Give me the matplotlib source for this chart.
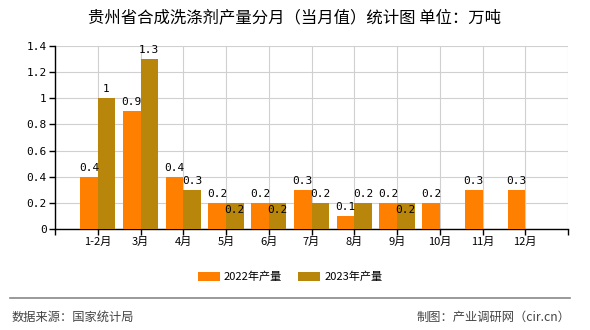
import matplotlib
matplotlib.use("Agg")
import matplotlib.pyplot as plt
import numpy as np

plt.rcParams['font.family'] = ['Noto Sans CJK SC', 'DejaVu Sans']

categories = ["1-2月", "3月", "4月", "5月", "6月", "7月", "8月", "9月", "10月", "11月", "12月"]
values_2022 = [0.4, 0.9, 0.4, 0.2, 0.2, 0.3, 0.1, 0.2, 0.2, 0.3, 0.3]
values_2023 = [1.0, 1.3, 0.3, 0.2, 0.2, 0.2, 0.2, 0.2, None, None, None]
series_names = ["2022年产量", "2023年产量"]
title = "贵州省合成洗涤剂产量分月（当月值）统计图 单位：万吨"
source_text = "数据来源：国家统计局"
credit_text = "制图：产业调研网（cir.cn）"

c22 = "#FF8000"
c23 = "#B8860B"

fig = plt.figure(figsize=(5.9, 3.3), dpi=100)
ax = fig.add_axes([55/590, 1-229/330, 513/590, 183/330])

x = np.arange(1, len(categories) + 1)
w = 0.41
v23 = [np.nan if v is None else v for v in values_2023]
b1 = ax.bar(x - w/2, values_2022, w, color=c22, label=series_names[0], zorder=3)
b2 = ax.bar(x + w/2, v23, w, color=c23, label=series_names[1], zorder=3)

mono = ['DejaVu Sans Mono']

for xi, v in zip(x, values_2022):
    ax.text(xi - w/2, v + 0.03, "%g" % v, ha='center', va='bottom', fontsize=8,
            family=mono, zorder=4)
for xi, v, v0 in zip(x, values_2023, values_2022):
    if v is None:
        continue
    if abs(v - v0) < 1e-9:
        ax.text(xi + w/2, v - 0.015, "%g" % v, ha='center', va='top', fontsize=8,
                family=mono, zorder=4)
    else:
        ax.text(xi + w/2, v + 0.03, "%g" % v, ha='center', va='bottom', fontsize=8,
                family=mono, zorder=4)

ax.set_xlim(0, 12)
ax.set_ylim(0, 1.4)
yt = np.arange(0, 1.41, 0.2)
ax.set_yticks(yt)
ax.set_yticklabels(["%g" % round(t, 1) for t in yt], family=mono, fontsize=8)
ax.set_xticks(list(x) + [0, 12])
ax.set_xticklabels(categories + ["", ""], fontsize=8)
ax.grid(True, color="#d0d0d0", linewidth=0.8, zorder=0)
ax.tick_params(axis='both', length=4, width=1, color='black', pad=2)
for s in ['top', 'right']:
    ax.spines[s].set_visible(False)
for s in ['left', 'bottom']:
    ax.spines[s].set_color('black')
    ax.spines[s].set_linewidth(1)
ax.set_axisbelow(True)

fig.text(295/590, 1-18/330, title, ha='center', va='center', fontsize=11.8)

leg = fig.legend(handles=[b1, b2], labels=series_names, loc='center',
                 bbox_to_anchor=(290/590, 1-277/330), ncol=2, frameon=False,
                 fontsize=8, handlelength=2.0, handleheight=0.8, columnspacing=1.45,
                 handletextpad=0.35, borderpad=0)

fig.add_artist(plt.Line2D([10/590, 570/590], [1-298/330, 1-298/330],
                          color='#888888', linewidth=1.2, transform=fig.transFigure))
fig.text(12/590, 1-317/330, source_text, ha='left', va='center', fontsize=8.8, color='#444444')
fig.text(570/590, 1-317/330, credit_text, ha='right', va='center', fontsize=8.8, color='#444444')

fig.savefig("out.png", dpi=100)
